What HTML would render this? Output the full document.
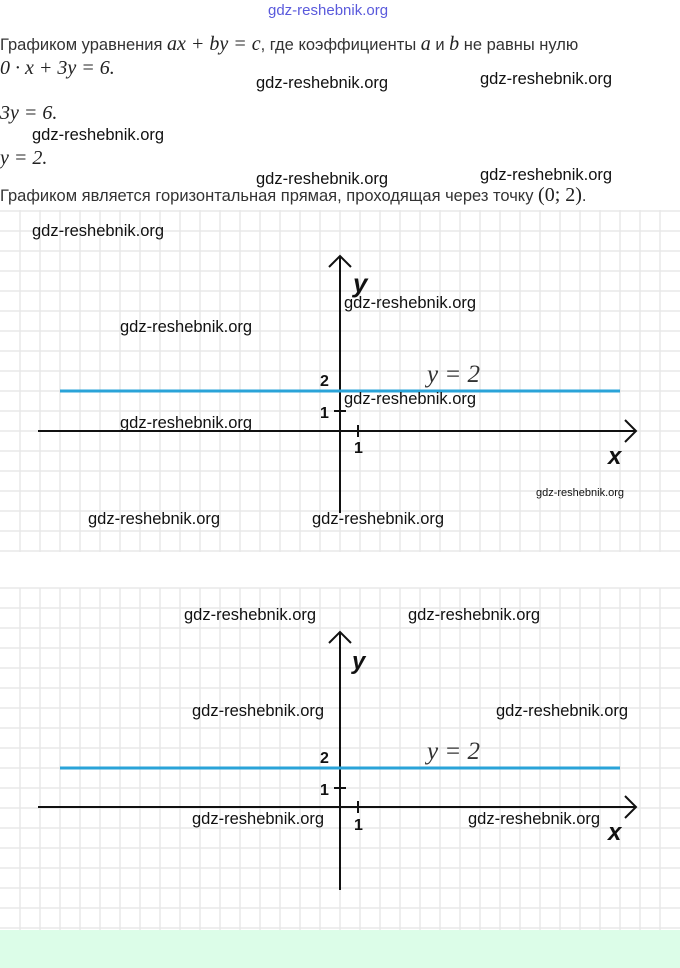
<!DOCTYPE html>
<html><head><meta charset="utf-8"><style>
body{margin:0;width:680px;height:968px;background:#fff;overflow:hidden;position:relative;font-family:"Liberation Sans",sans-serif}
.t{position:absolute;left:0;font-size:16.5px;color:#333;white-space:nowrap}
.m{font-family:"Liberation Serif",serif;font-style:italic;font-size:20px;color:#222}
.w{position:absolute;font-family:"Liberation Sans",sans-serif;font-size:16.5px;color:#111;white-space:nowrap}
</style></head><body>
<div style="position:absolute;left:268px;top:2px;font-size:15px;color:#5a5adc">gdz-reshebnik.org</div>
<div class="t" style="top:33px">Графиком уравнения <span class="m">ax + by = c</span>, где коэффициенты <span class="m">a</span> и <span class="m">b</span> не равны нулю</div>
<div class="t m" style="top:57px">0 · x + 3y = 6.</div>
<div class="t m" style="top:102px">3y = 6.</div>
<div class="t m" style="top:147px">y = 2.</div>
<div class="t" style="top:184px">Графиком является горизонтальная прямая, проходящая через точку <span class="m" style="font-style:normal">(0; 2)</span>.</div>
<svg width="680" height="968" style="position:absolute;left:0;top:0">
<g stroke="#e8e8e8" stroke-width="1.5">
<path d="M0 211H680M0 231H680M0 251H680M0 271H680M0 291H680M0 311H680M0 331H680M0 351H680M0 371H680M0 391H680M0 411H680M0 431H680M0 451H680M0 471H680M0 491H680M0 511H680M0 531H680M0 551H680"/>
<path d="M0 588H680M0 608H680M0 628H680M0 648H680M0 668H680M0 688H680M0 708H680M0 728H680M0 748H680M0 768H680M0 788H680M0 808H680M0 828H680M0 848H680M0 868H680M0 888H680M0 908H680M0 928H680"/>
<path d="M20 210V552M40 210V552M60 210V552M80 210V552M100 210V552M120 210V552M140 210V552M160 210V552M180 210V552M200 210V552M220 210V552M240 210V552M260 210V552M280 210V552M300 210V552M320 210V552M340 210V552M360 210V552M380 210V552M400 210V552M420 210V552M440 210V552M460 210V552M480 210V552M500 210V552M520 210V552M540 210V552M560 210V552M580 210V552M600 210V552M620 210V552M640 210V552M660 210V552"/>
<path d="M20 588V930M40 588V930M60 588V930M80 588V930M100 588V930M120 588V930M140 588V930M160 588V930M180 588V930M200 588V930M220 588V930M240 588V930M260 588V930M280 588V930M300 588V930M320 588V930M340 588V930M360 588V930M380 588V930M400 588V930M420 588V930M440 588V930M460 588V930M480 588V930M500 588V930M520 588V930M540 588V930M560 588V930M580 588V930M600 588V930M620 588V930M640 588V930M660 588V930"/>
</g>
<rect x="0" y="930" width="680" height="38" fill="#dcfde8"/>
<g stroke="#111" stroke-width="2" fill="none">
<path d="M38 431H636M625 420L636 431L625 442M340 513V256M329 267L340 256L351 267M334 411H346M358 425V437M334 391H346"/>
<path d="M38 807H636M625 796L636 807L625 818M340 890V632M329 643L340 632L351 643M334 788H346M358 801V813M334 768H346"/>
</g>
<path d="M60 391H620M60 768H620" stroke="#2aa3d8" stroke-width="3"/>
<g font-family="Liberation Sans,sans-serif" fill="#111" font-weight="bold">
<text x="353" y="292" font-size="26" font-style="italic">y</text>
<text x="608" y="464" font-size="24" font-style="italic">x</text>
<text x="320" y="386" font-size="16">2</text><text x="320" y="418" font-size="16">1</text><text x="354" y="453" font-size="16">1</text>
<text x="352" y="669" font-size="24" font-style="italic">y</text>
<text x="608" y="840" font-size="24" font-style="italic">x</text>
<text x="320" y="763" font-size="16">2</text><text x="320" y="795" font-size="16">1</text><text x="354" y="830" font-size="16">1</text>
</g>
<g font-family="Liberation Serif,serif" font-style="italic" font-size="25" fill="#333">
<text x="427" y="382">y = 2</text><text x="427" y="759">y = 2</text>
</g>
</svg>
<div class="w" style="left:256px;top:74px">gdz-reshebnik.org</div>
<div class="w" style="left:480px;top:70px">gdz-reshebnik.org</div>
<div class="w" style="left:32px;top:126px">gdz-reshebnik.org</div>
<div class="w" style="left:256px;top:170px">gdz-reshebnik.org</div>
<div class="w" style="left:480px;top:166px">gdz-reshebnik.org</div>
<div class="w" style="left:32px;top:222px">gdz-reshebnik.org</div>
<div class="w" style="left:344px;top:294px">gdz-reshebnik.org</div>
<div class="w" style="left:120px;top:318px">gdz-reshebnik.org</div>
<div class="w" style="left:344px;top:390px">gdz-reshebnik.org</div>
<div class="w" style="left:120px;top:414px">gdz-reshebnik.org</div>
<div class="w" style="left:536px;top:487px;font-size:11px">gdz-reshebnik.org</div>
<div class="w" style="left:88px;top:510px">gdz-reshebnik.org</div>
<div class="w" style="left:312px;top:510px">gdz-reshebnik.org</div>
<div class="w" style="left:184px;top:606px">gdz-reshebnik.org</div>
<div class="w" style="left:408px;top:606px">gdz-reshebnik.org</div>
<div class="w" style="left:192px;top:702px">gdz-reshebnik.org</div>
<div class="w" style="left:496px;top:702px">gdz-reshebnik.org</div>
<div class="w" style="left:192px;top:810px">gdz-reshebnik.org</div>
<div class="w" style="left:468px;top:810px">gdz-reshebnik.org</div>
</body></html>
